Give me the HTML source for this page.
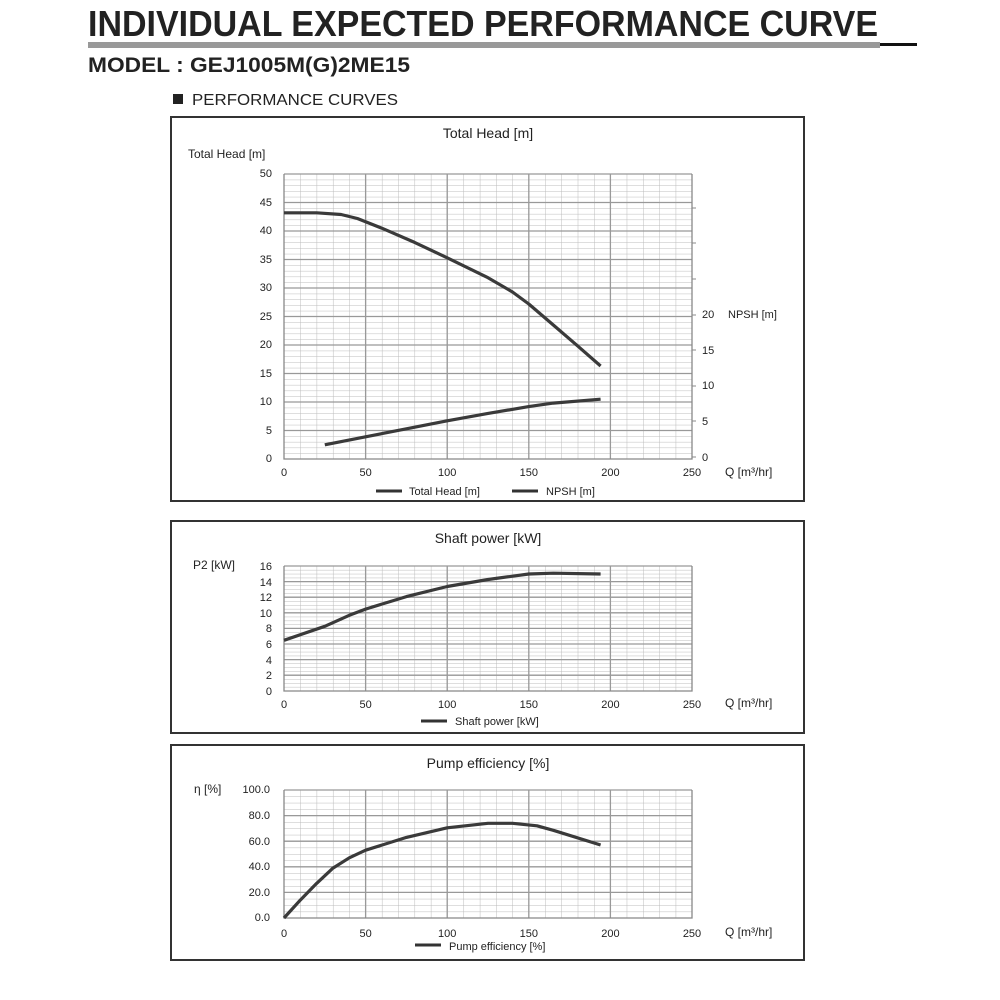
<!DOCTYPE html>
<html><head><meta charset="utf-8"><style>
body{margin:0;background:#fff}
svg{display:block}
text{font-family:"Liberation Sans",sans-serif;fill:#222}
</style></head><body>
<svg width="1000" height="1000" viewBox="0 0 1000 1000" xmlns="http://www.w3.org/2000/svg">
<defs>
<pattern id="g1" x="284" y="174" width="16.32" height="5.7" patternUnits="userSpaceOnUse">
<path d="M0 0H16.32M0 0V5.7" stroke="#bbb" stroke-width="1" fill="none"/></pattern>
<pattern id="g2" x="284" y="566" width="16.32" height="3.9" patternUnits="userSpaceOnUse">
<path d="M0 0H16.32M0 0V3.9" stroke="#bbb" stroke-width="1" fill="none"/></pattern>
<pattern id="g3" x="284" y="790" width="16.32" height="6.4" patternUnits="userSpaceOnUse">
<path d="M0 0H16.32M0 0V6.4" stroke="#bbb" stroke-width="1" fill="none"/></pattern>
</defs>
<!-- header -->
<text x="88" y="36" font-size="36" font-weight="bold" fill="#111" textLength="790" lengthAdjust="spacingAndGlyphs">INDIVIDUAL EXPECTED PERFORMANCE CURVE</text>
<rect x="88" y="42" width="792" height="6" fill="#999"/>
<rect x="880" y="43" width="37" height="3" fill="#111"/>
<text x="88" y="72" font-size="21" font-weight="bold" fill="#111" textLength="322" lengthAdjust="spacingAndGlyphs">MODEL : GEJ1005M(G)2ME15</text>
<rect x="173" y="94" width="10" height="10" fill="#222"/>
<text x="192" y="105" font-size="16" textLength="206" lengthAdjust="spacingAndGlyphs">PERFORMANCE CURVES</text>

<!-- chart 1 -->
<rect x="171" y="117" width="633" height="384" fill="none" stroke="#333" stroke-width="2"/>
<text x="488" y="138" font-size="14" text-anchor="middle">Total Head [m]</text>
<text x="188" y="158" font-size="12">Total Head [m]</text>
<rect x="284" y="174" width="408" height="285" fill="url(#g1)"/>
<g stroke="#999" stroke-width="1.3">
<path d="M284 202.5H692M284 231H692M284 259.5H692M284 288H692M284 316.5H692M284 345H692M284 373.5H692M284 402H692M284 430.5H692"/>
<path d="M284 174H692M365.6 174V459M447.2 174V459M528.8 174V459M610.4 174V459"/>
</g>
<path d="M284 174V459H692V174" fill="none" stroke="#888" stroke-width="1.3"/>
<g font-size="11" text-anchor="end">
<text x="272" y="177">50</text><text x="272" y="206">45</text><text x="272" y="234">40</text><text x="272" y="263">35</text><text x="272" y="291">30</text><text x="272" y="320">25</text><text x="272" y="348">20</text><text x="272" y="377">15</text><text x="272" y="405">10</text><text x="272" y="434">5</text><text x="272" y="462">0</text>
</g>
<g stroke="#888"><path d="M692 208h4M692 243h4M692 279h4M692 315h4M692 350h4M692 386h4M692 421h4M692 457h4"/></g>
<g font-size="11"><text x="702" y="318">20</text><text x="702" y="354">15</text><text x="702" y="389">10</text><text x="702" y="425">5</text><text x="702" y="461">0</text><text x="728" y="318">NPSH  [m]</text></g>
<g font-size="11" text-anchor="middle"><text x="284" y="476">0</text><text x="365.6" y="476">50</text><text x="447.2" y="476">100</text><text x="528.8" y="476">150</text><text x="610.4" y="476">200</text><text x="692" y="476">250</text></g>
<text x="725" y="476" font-size="12">Q [m³/hr]</text>
<path d="M376 491h26M512 491h26" stroke="#333" stroke-width="3"/>
<text x="409" y="495" font-size="11">Total Head [m]</text><text x="546" y="495" font-size="11">NPSH [m]</text>
<g fill="none" stroke="#3a3a3a" stroke-width="3.2" stroke-linejoin="round">
<polyline points="284,212.8 316.6,212.8 341.1,214.5 357.4,218.5 381.9,228.2 414.6,242.4 447.2,257.8 488,277.7 512.5,292 528.8,304 553.3,325 577.8,346.1 600.6,366"/>
<polyline points="324.8,444.8 365.6,436.8 406.4,428.8 447.2,420.8 488,413.4 528.8,406.6 553.3,403.1 600.6,399.2"/>
</g>

<!-- chart 2 -->
<rect x="171" y="521" width="633" height="212" fill="none" stroke="#333" stroke-width="2"/>
<text x="488" y="543" font-size="14" text-anchor="middle">Shaft power [kW]</text>
<text x="193" y="569" font-size="12">P2 [kW]</text>
<rect x="284" y="566" width="408" height="125" fill="url(#g2)"/>
<g stroke="#999" stroke-width="1.3">
<path d="M284 581.6H692M284 597.2H692M284 612.8H692M284 628.4H692M284 644H692M284 659.6H692M284 675.2H692"/>
<path d="M284 566H692M365.6 566V691M447.2 566V691M528.8 566V691M610.4 566V691"/>
</g>
<path d="M284 566V691H692V566" fill="none" stroke="#888" stroke-width="1.3"/>
<g font-size="11" text-anchor="end">
<text x="272" y="570">16</text><text x="272" y="586">14</text><text x="272" y="601">12</text><text x="272" y="617">10</text><text x="272" y="632">8</text><text x="272" y="648">6</text><text x="272" y="664">4</text><text x="272" y="679">2</text><text x="272" y="695">0</text>
</g>
<g font-size="11" text-anchor="middle"><text x="284" y="708">0</text><text x="365.6" y="708">50</text><text x="447.2" y="708">100</text><text x="528.8" y="708">150</text><text x="610.4" y="708">200</text><text x="692" y="708">250</text></g>
<text x="725" y="707" font-size="12">Q [m³/hr]</text>
<path d="M421 721h26" stroke="#333" stroke-width="3"/>
<text x="455" y="725" font-size="11">Shaft power [kW]</text>
<polyline fill="none" stroke="#3a3a3a" stroke-width="3.2" stroke-linejoin="round" points="284,640.3 324.8,626.3 349.3,615.3 365.6,609.1 406.4,596.6 447.2,586.5 488,579.5 528.8,574 553.3,573.2 600.6,574"/>

<!-- chart 3 -->
<rect x="171" y="745" width="633" height="215" fill="none" stroke="#333" stroke-width="2"/>
<text x="488" y="768" font-size="14" text-anchor="middle">Pump efficiency [%]</text>
<text x="194" y="793" font-size="12">η [%]</text>
<rect x="284" y="790" width="408" height="128" fill="url(#g3)"/>
<g stroke="#999" stroke-width="1.3">
<path d="M284 815.6H692M284 841.2H692M284 866.8H692M284 892.4H692"/>
<path d="M284 790H692M365.6 790V918M447.2 790V918M528.8 790V918M610.4 790V918"/>
</g>
<path d="M284 790V918H692V790" fill="none" stroke="#888" stroke-width="1.3"/>
<g font-size="11" text-anchor="end">
<text x="270" y="793">100.0</text><text x="270" y="819">80.0</text><text x="270" y="845">60.0</text><text x="270" y="870">40.0</text><text x="270" y="896">20.0</text><text x="270" y="921">0.0</text>
</g>
<g font-size="11" text-anchor="middle"><text x="284" y="937">0</text><text x="365.6" y="937">50</text><text x="447.2" y="937">100</text><text x="528.8" y="937">150</text><text x="610.4" y="937">200</text><text x="692" y="937">250</text></g>
<text x="725" y="936" font-size="12">Q [m³/hr]</text>
<path d="M415 945h26" stroke="#333" stroke-width="3"/>
<text x="449" y="950" font-size="11">Pump efficiency [%]</text>
<polyline fill="none" stroke="#3a3a3a" stroke-width="3.2" stroke-linejoin="round" points="284,918 300.3,900.1 316.6,883.4 333,868.1 349.3,857.8 365.6,850.2 406.4,837.4 447.2,827.8 488,823.3 512.5,823.3 537,825.8 553.3,830.3 600.6,845"/>
</svg>
</body></html>
